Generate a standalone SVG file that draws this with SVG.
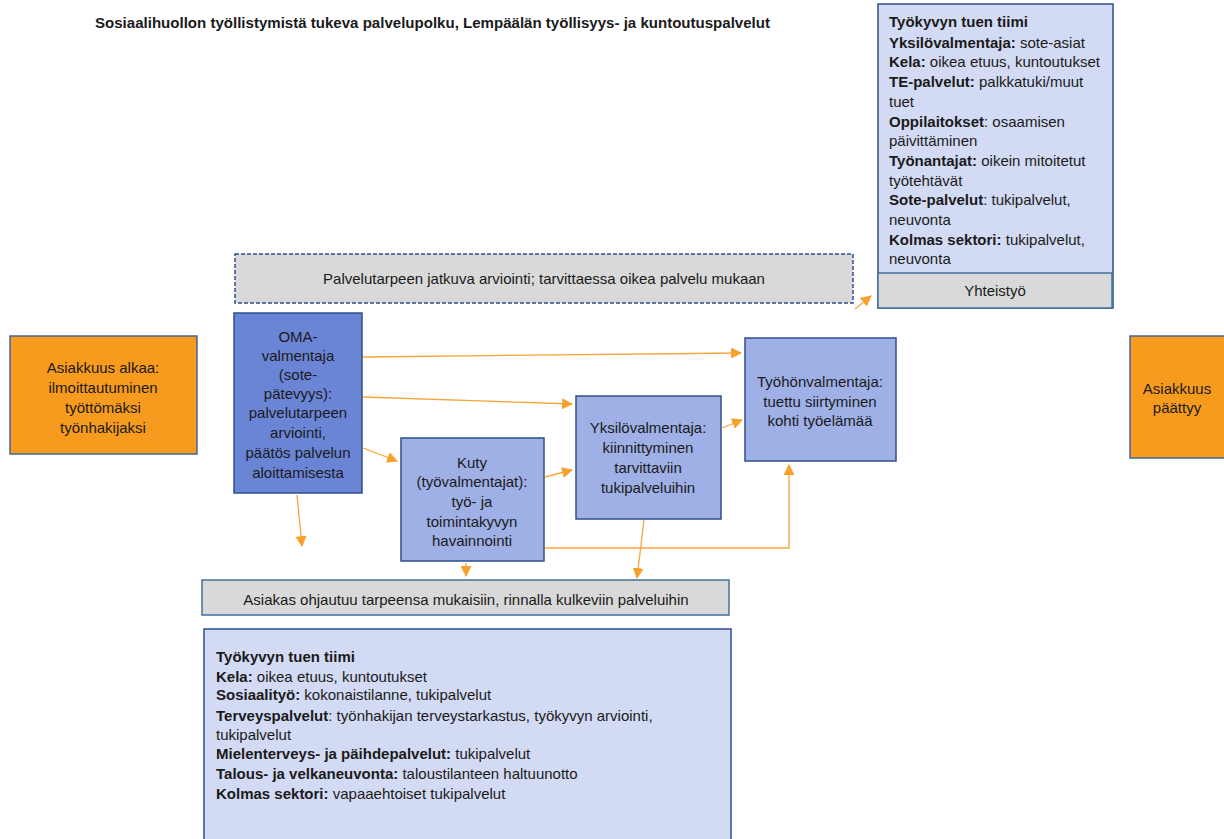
<svg xmlns="http://www.w3.org/2000/svg" width="1224" height="839" viewBox="0 0 1224 839">
<style>
text{font-family:"Liberation Sans",Arial,sans-serif;font-size:15px;fill:#1a1a1a}
.b{font-weight:bold}
.c{text-anchor:middle}
.org{fill:#F79B1F;stroke:#3F6A96;stroke-width:1.5}
.dark{fill:#6A85D6;stroke:#2F4F8A;stroke-width:1.5}
.mid{fill:#9EB0E6;stroke:#2F4F8A;stroke-width:1.5}
.lite{fill:#D3DAF3;stroke:#2F4F8A;stroke-width:1.5}
.gray{fill:#D9D9D9;stroke:#41719C;stroke-width:1.5}
.con{fill:none;stroke:#F7A53A;stroke-width:1.3}
</style>
<defs>
<marker id="ah" viewBox="0 0 10 10" refX="9" refY="5" markerWidth="11" markerHeight="11" markerUnits="userSpaceOnUse" orient="auto">
<path d="M0,0 L10,5 L0,10 z" fill="#F7A02E"/>
</marker>
</defs>
<rect width="1224" height="839" fill="#ffffff"/>
<text id="title" class="b" x="95" y="28" textLength="675" lengthAdjust="spacingAndGlyphs">Sosiaalihuollon työllistymistä tukeva palvelupolku, Lempäälän työllisyys- ja kuntoutuspalvelut</text>

<g id="tiimi-top">
<rect class="lite" x="878" y="4" width="235" height="304"/>
<text x="889" y="27"><tspan class="b">Työkyvyn tuen tiimi</tspan></text>
<text x="889" y="48"><tspan class="b">Yksilövalmentaja:</tspan> sote-asiat</text>
<text x="889" y="67"><tspan class="b">Kela:</tspan> oikea etuus, kuntoutukset</text>
<text x="889" y="87"><tspan class="b">TE-palvelut:</tspan> palkkatuki/muut</text>
<text x="889" y="107">tuet</text>
<text x="889" y="127"><tspan class="b">Oppilaitokset</tspan>: osaamisen</text>
<text x="889" y="146">päivittäminen</text>
<text x="889" y="166"><tspan class="b">Työnantajat:</tspan> oikein mitoitetut</text>
<text x="889" y="186">työtehtävät</text>
<text x="889" y="205"><tspan class="b">Sote-palvelut</tspan>: tukipalvelut,</text>
<text x="889" y="225">neuvonta</text>
<text x="889" y="245"><tspan class="b">Kolmas sektori:</tspan> tukipalvelut,</text>
<text x="889" y="264">neuvonta</text>
</g>
<g id="yhteistyo">
<rect class="gray" x="878" y="273" width="234" height="35"/>
<text class="c" x="995" y="296">Yhteistyö</text>
</g>

<g id="arviointi">
<rect class="gray" x="235" y="254" width="618" height="49" stroke-dasharray="4,2" style="stroke:#2F4F8A"/>
<text class="c" x="544" y="284">Palvelutarpeen jatkuva arviointi; tarvittaessa oikea palvelu mukaan</text>
</g>

<g id="alkaa">
<rect class="org" x="10" y="336" width="187" height="118"/>
<text class="c" x="103" y="373">Asiakkuus alkaa:</text>
<text class="c" x="103" y="393">ilmoittautuminen</text>
<text class="c" x="103" y="413">työttömäksi</text>
<text class="c" x="103" y="433">työnhakijaksi</text>
</g>

<g id="oma">
<rect class="dark" x="234" y="313" width="128" height="180"/>
<text class="c" x="298" y="342">OMA-</text>
<text class="c" x="298" y="361">valmentaja</text>
<text class="c" x="298" y="380">(sote-</text>
<text class="c" x="298" y="399">pätevyys):</text>
<text class="c" x="298" y="418">palvelutarpeen</text>
<text class="c" x="298" y="438">arviointi,</text>
<text class="c" x="298" y="458">päätös palvelun</text>
<text class="c" x="298" y="478">aloittamisesta</text>
</g>

<g id="kuty">
<rect class="mid" x="401" y="438" width="143" height="123"/>
<text class="c" x="472" y="468">Kuty</text>
<text class="c" x="472" y="487">(työvalmentajat):</text>
<text class="c" x="472" y="507">työ- ja</text>
<text class="c" x="472" y="527">toimintakyvyn</text>
<text class="c" x="472" y="546">havainnointi</text>
</g>

<g id="yksilo">
<rect class="mid" x="576" y="396" width="145" height="123"/>
<text class="c" x="648" y="433">Yksilövalmentaja:</text>
<text class="c" x="648" y="453">kiinnittyminen</text>
<text class="c" x="648" y="473">tarvittaviin</text>
<text class="c" x="648" y="493">tukipalveluihin</text>
</g>

<g id="tyohon">
<rect class="mid" x="745" y="338" width="151" height="123"/>
<text class="c" x="820" y="387">Työhönvalmentaja:</text>
<text class="c" x="820" y="407">tuettu siirtyminen</text>
<text class="c" x="820" y="426">kohti työelämää</text>
</g>

<g id="paattyy">
<rect class="org" x="1130" y="336" width="100" height="122"/>
<text class="c" x="1177" y="394">Asiakkuus</text>
<text class="c" x="1177" y="413">päättyy</text>
</g>

<g id="ohjautuu">
<rect class="gray" x="202" y="580" width="527" height="35"/>
<text class="c" x="466" y="605">Asiakas ohjautuu tarpeensa mukaisiin, rinnalla kulkeviin palveluihin</text>
</g>

<g id="tiimi-bottom">
<rect class="lite" x="204" y="629" width="527" height="215"/>
<text x="216" y="662"><tspan class="b">Työkyvyn tuen tiimi</tspan></text>
<text x="216" y="682"><tspan class="b">Kela:</tspan> oikea etuus, kuntoutukset</text>
<text x="216" y="700"><tspan class="b">Sosiaalityö:</tspan> kokonaistilanne, tukipalvelut</text>
<text x="216" y="721"><tspan class="b">Terveyspalvelut</tspan>: työnhakijan terveystarkastus, työkyvyn arviointi,</text>
<text x="216" y="740">tukipalvelut</text>
<text x="216" y="759"><tspan class="b">Mielenterveys- ja päihdepalvelut:</tspan> tukipalvelut</text>
<text x="216" y="779"><tspan class="b">Talous- ja velkaneuvonta:</tspan> taloustilanteen haltuunotto</text>
<text x="216" y="799"><tspan class="b">Kolmas sektori:</tspan> vapaaehtoiset tukipalvelut</text>
</g>

<g id="connectors">
<path class="con" d="M363,357 L741,353" marker-end="url(#ah)"/>
<path class="con" d="M363,397 L572,404" marker-end="url(#ah)"/>
<path class="con" d="M363,448 L397,461" marker-end="url(#ah)"/>
<path class="con" d="M297,495 L302,546" marker-end="url(#ah)"/>
<path class="con" d="M545,477 L572,470" marker-end="url(#ah)"/>
<path class="con" d="M722,428 L742,420" marker-end="url(#ah)"/>
<path class="con" d="M545,548 L789,548 L789,465" marker-end="url(#ah)"/>
<path class="con" d="M644,520 L637,578" marker-end="url(#ah)"/>
<path class="con" d="M466,563 L466,576" marker-end="url(#ah)"/>
<path class="con" d="M855,309 L871,296" marker-end="url(#ah)"/>
</g>
</svg>
